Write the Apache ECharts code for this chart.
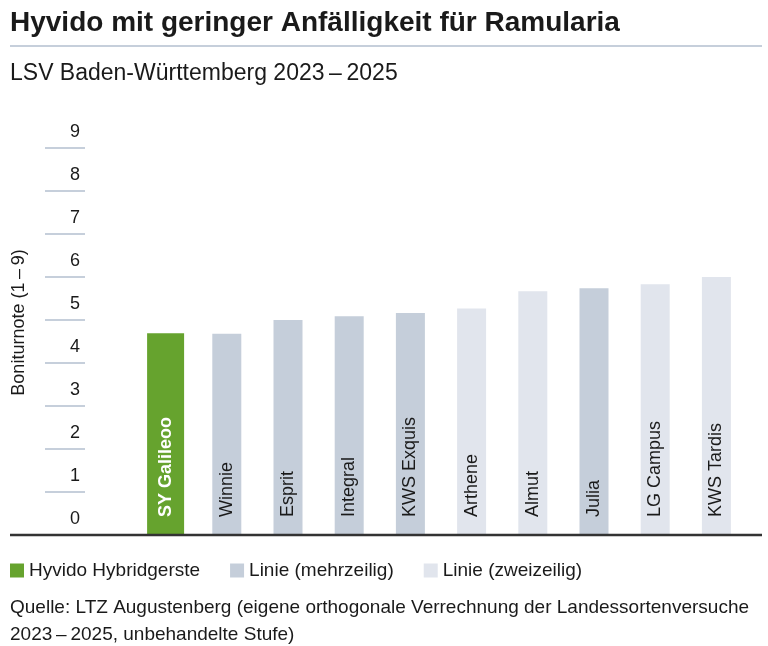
<!DOCTYPE html>
<html>
<head>
<meta charset="utf-8">
<style>
  html, body { margin: 0; padding: 0; background: #fff; }
  #chart { width: 768px; height: 646px; }
</style>
<script src="https://cdn.jsdelivr.net/npm/echarts@6/dist/echarts.min.js"></script>
</head>
<body>
<div id="chart"></div>
<script>
// Sorten und Boniturnoten
const sorten = ['SY Galileoo', 'Winnie', 'Esprit', 'Integral', 'KWS Exquis', 'Arthene', 'Almut', 'Julia', 'LG Campus', 'KWS Tardis']
const hyvido = [4.69, null, null, null, null, null, null, null, null, null]
const mehrzeilig = [null, 4.68, 5.0, 5.09, 5.16, null, null, 5.74, null, null]
const zweizeilig = [null, null, null, null, null, 5.27, 5.67, null, 5.83, 6.0]
const yMin = 0
const yMax = 9

const FONT = "'Liberation Sans', Arial, sans-serif"
const TXT = '#1a1a1a'
const GRID = { left: 135, right: 21, top: 148, bottom: 111 }

let barLabel = function (color, weight) {
  return {
    show: true,
    position: 'insideBottom',
    distance: 18,
    rotate: 90,
    align: 'left',
    verticalAlign: 'middle',
    formatter: '{b}',
    color: color,
    fontWeight: weight,
    fontSize: 18,
    fontFamily: FONT
  }
}

let option = {
  animation: false,
  textStyle: { fontFamily: FONT, color: TXT },
  title: [
    {
      text: 'Hyvido mit geringer Anfälligkeit für Ramularia',
      left: 5,
      top: 4,
      textStyle: { fontSize: 28, fontWeight: 'bold', color: TXT, fontFamily: FONT }
    },
    {
      text: 'LSV Baden-Württemberg 2023\u2009–\u20092025',
      left: 5,
      top: 57,
      textStyle: { fontSize: 23, fontWeight: 'normal', color: TXT, fontFamily: FONT }
    },
    {
      text: 'Quelle: LTZ Augustenberg (eigene orthogonale Verrechnung der Landessortenversuche\n2023\u2009–\u20092025, unbehandelte Stufe)',
      left: 5,
      top: 589,
      textStyle: { fontSize: 19, fontWeight: 'normal', lineHeight: 27, color: TXT, fontFamily: FONT }
    }
  ],
  legend: {
    left: 5,
    top: 556,
    icon: 'rect',
    itemWidth: 14,
    itemHeight: 14,
    itemGap: 30,
    textStyle: { fontSize: 19, color: TXT, fontFamily: FONT },
    data: ['Hyvido Hybridgerste', 'Linie (mehrzeilig)', 'Linie (zweizeilig)']
  },
  grid: GRID,
  xAxis: [
    {
      type: 'category',
      data: sorten,
      axisLine: { show: false },
      axisTick: { show: false },
      axisLabel: { show: false }
    },
    {
      type: 'category',
      data: sorten,
      show: false
    }
  ],
  yAxis: {
    type: 'value',
    min: yMin,
    max: yMax,
    interval: 1,
    offset: 50,
    name: 'Boniturnote (1\u2009–\u20099)',
    nameLocation: 'middle',
    nameGap: 57,
    nameTextStyle: { fontSize: 18, color: TXT, fontFamily: FONT, padding: [0, 0, 0, 38] },
    axisLine: { show: false },
    axisTick: { show: true, length: 40, lineStyle: { color: '#c6cfdb', width: 2 } },
    splitLine: { show: false },
    axisLabel: {
      fontSize: 18,
      color: TXT,
      margin: 5,
      verticalAlign: 'bottom',
      padding: [0, 0, 7, 0]
    }
  },
  graphic: [
    {
      type: 'line',
      shape: { x1: 10, y1: 46, x2: 762, y2: 46 },
      style: { stroke: '#c6cfdb', lineWidth: 2 }
    },
    {
      type: 'line',
      z: 100,
      shape: { x1: 10, y1: 646 - GRID.bottom, x2: 762, y2: 646 - GRID.bottom },
      style: { stroke: '#333333', lineWidth: 2.5 }
    }
  ],
  series: [
    {
      name: 'Hyvido Hybridgerste',
      type: 'bar',
      xAxisIndex: 1,
      barWidth: 37,
      data: hyvido,
      itemStyle: { color: '#66a32e' },
      label: barLabel('#ffffff', 'bold')
    },
    {
      name: 'Linie (mehrzeilig)',
      type: 'bar',
      xAxisIndex: 0,
      barWidth: 29,
      barGap: '-100%',
      data: mehrzeilig,
      itemStyle: { color: '#c5ceda' },
      label: barLabel(TXT, 'normal')
    },
    {
      name: 'Linie (zweizeilig)',
      type: 'bar',
      xAxisIndex: 0,
      barWidth: 29,
      barGap: '-100%',
      data: zweizeilig,
      itemStyle: { color: '#e1e5ed' },
      label: barLabel(TXT, 'normal')
    }
  ]
}

let myChart = echarts.init(document.getElementById('chart'))
myChart.setOption(option)
</script>
</body>
</html>
